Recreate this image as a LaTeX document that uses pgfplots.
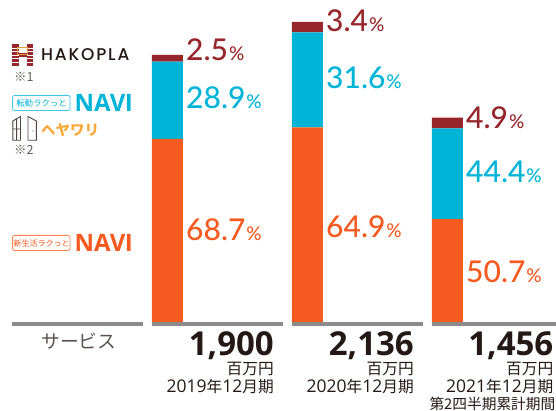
\documentclass[border=0pt]{standalone}
\usepackage{fontspec}
\setmainfont{Open Sans}
\newfontfamily\cjk{Noto Sans CJK JP}
\newfontfamily\dg{Open Sans}
\newfontfamily\lato{Lato Medium}
\newfontfamily\pop{Poppins Medium}
\usepackage{pgfplots}
\pgfplotsset{compat=1.18}
\definecolor{cOr}{HTML}{F55A20}
\definecolor{cBl}{HTML}{00B4D8}
\definecolor{cRd}{HTML}{96262B}
\definecolor{cYe}{HTML}{F9A83A}
\definecolor{cGy}{HTML}{8C8C8C}
\definecolor{cTx}{HTML}{231815}
\newcommand{\pct}[4]{\node[anchor=base west,inner sep=0pt,text=#1] at (#2,#3) {\lato\fontsize{30}{30}\selectfont #4\kern1pt\fontsize{19}{19}\selectfont\%};}
\newcommand{\jp}[4]{\node[anchor=base east,inner sep=0pt,text=cTx] at (#1,#2) {\cjk\fontsize{#3}{#3}\selectfont #4};}
\begin{document}
\begin{tikzpicture}[x=1pt,y=1pt]
\path[use as bounding box] (0,0) rectangle (556,411);
\begin{axis}[
  at={(0,0)},anchor=south west,
  scale only axis,width=556pt,height=411pt,
  hide axis,
  xmin=-1.196,xmax=2.775,
  ymin=-629,ymax=2292,
  ybar stacked,bar width=0.2214,
  xtick=data,
]
\addplot[fill=cOr,draw=none] coordinates {(0,1305) (1,1386) (2,734)};
\addplot[fill=cBl,draw=none] coordinates {(0,549) (1,675) (2,646)};
\addplot[fill=cRd,draw=none] coordinates {(0,47.5) (1,75) (2,76)};
\end{axis}
\begin{scope}[x=1pt,y=-1pt,yshift=411pt]
\foreach \a/\b in {12.4/143,152/283,292/423,432/556}
  \fill[cGy] (\a,322.3) rectangle (\b,326);
\pct{cRd}{186}{61}{2.5}
\pct{cBl}{186}{109}{28.9}
\pct{cOr}{186}{240.5}{68.7}
\pct{cRd}{326}{32}{3.4}
\pct{cBl}{326}{89}{31.6}
\pct{cOr}{326}{238}{64.9}
\pct{cRd}{466}{129}{4.9}
\pct{cBl}{466}{183}{44.4}
\pct{cOr}{466}{282.5}{50.7}
\node[anchor=base west,inner sep=0pt,text=cTx!75] at (41,349) {\cjk\fontsize{18.8}{18.8}\selectfont サービス};
\foreach \r/\v in {274/{1,900},414/{2,136},553.5/{1,456}}
  \node[anchor=base east,inner sep=0pt,text=cTx] at (\r,355.7) {\bfseries\fontsize{33}{33}\selectfont \v};
\foreach \r/\y in {274/2019,414/2020,553.5/2021}{
  \jp{\r}{374.5}{15.7}{百万円}
  \jp{\r}{392.5}{15.7}{{\dg\fontsize{17.5}{17.5}\selectfont\y}年{\dg\fontsize{17.5}{17.5}\selectfont 12}月期}
}
\jp{555.5}{409.8}{14.7}{第2四半期累計期間}
% logos
\node[anchor=base west,inner sep=0pt,text=cTx] at (41,61) {\pop\fontsize{17}{17}\selectfont H\kern1.8pt A\kern1.8pt K\kern1.8pt O\kern1.8pt P\kern1.8pt L\kern1.8pt A};
\fill[cRd] (12.3,44) rectangle (19,66);
\fill[cRd] (27,44) rectangle (33,66);
\fill[cRd] (19,53) rectangle (27,57);
\foreach \y in {48,51.5,55,58.5,62}
  \draw[white,line width=.5pt] (12,\y) -- (19,\y) (27,\y) -- (33,\y);
\draw[cYe!70!brown,line width=.9pt] (17,47) rectangle (27,54);
\node[anchor=base west,inner sep=0pt,text=cTx!70] at (14,82) {\cjk\fontsize{12.5}{12.5}\selectfont ※1};
\draw[cBl!75,line width=.8pt,fill=white,rounded corners=2pt] (12.6,95.4) rectangle (70,110.5);
\node[anchor=center,inner sep=0pt,text=cBl] at (41.5,103) {\cjk\fontsize{8.4}{8.4}\selectfont 転勤ラクっと};
\node[anchor=base west,inner sep=0pt,text=cBl] at (74.5,111.7) {\bfseries\fontsize{24}{24}\selectfont NAV\kern-.5pt I};
\draw[cTx!80,line width=.9pt] (12.8,140.3) -- (12.8,121) -- (20.5,116.5) -- (20.5,140.3) -- cycle (16.6,119) -- (16.6,140.3) (12.8,129) -- (20.5,129);
\draw[cTx!80,line width=.9pt] (28,116.5) -- (36.3,121) -- (36.3,140.3) -- (28,140.3) -- cycle;
\fill[cTx!80] (33,131) circle (.7);
\node[anchor=base west,inner sep=0pt,text=cYe] at (41,136) {\cjk\bfseries\fontsize{14.5}{14.5}\selectfont ヘヤワリ};
\node[anchor=base west,inner sep=0pt,text=cTx!70] at (14,155) {\cjk\fontsize{12.5}{12.5}\selectfont ※2};
\draw[cOr!75,line width=.8pt,fill=white,rounded corners=2pt] (12.6,235.4) rectangle (70,250.5);
\node[anchor=center,inner sep=0pt,text=cOr] at (41.5,243) {\cjk\fontsize{8}{8}\selectfont 新生活ラクっと};
\node[anchor=base west,inner sep=0pt,text=cOr] at (74.5,252) {\bfseries\fontsize{24}{24}\selectfont NAV\kern-.5pt I};
\end{scope}
\end{tikzpicture}
\end{document}
